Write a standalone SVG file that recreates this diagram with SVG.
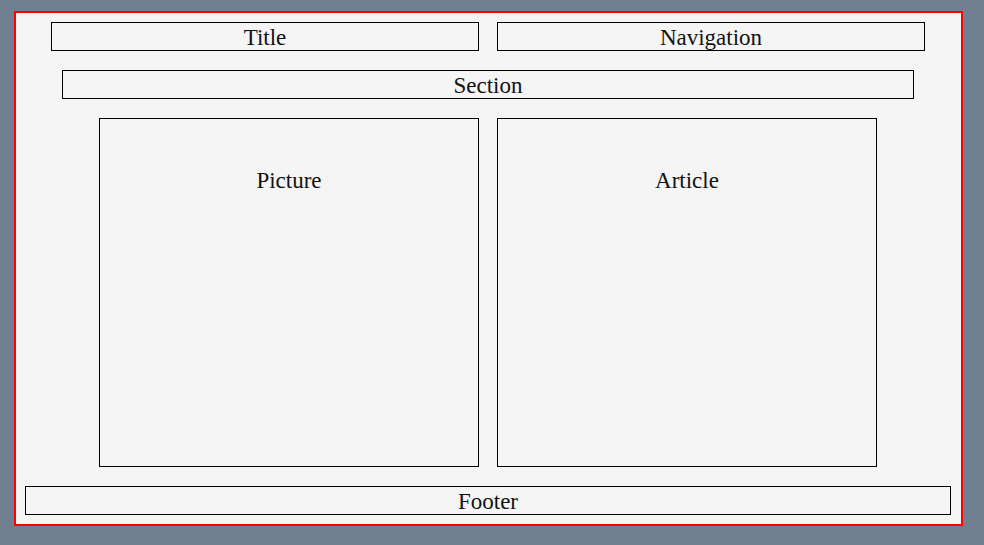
<svg xmlns="http://www.w3.org/2000/svg" width="984" height="545" viewBox="0 0 984 545">
<style>
.box{fill:#f5f5f5;stroke:#000;stroke-width:1}
.lbl{font-family:"Liberation Serif",serif;font-size:23px;fill:#111;text-anchor:middle}
</style>
<rect x="0" y="0" width="984" height="545" fill="#708090"/>
<rect x="15" y="12" width="947" height="513" fill="#f5f5f5" stroke="#ff0000" stroke-width="2"/>
<g id="title"><rect class="box" x="51.5" y="22.5" width="427" height="28"/><text class="lbl" x="265" y="44.5">Title</text></g>
<g id="navigation"><rect class="box" x="497.5" y="22.5" width="427" height="28"/><text class="lbl" x="711" y="44.5">Navigation</text></g>
<g id="section"><rect class="box" x="62.5" y="70.5" width="851" height="28"/><text class="lbl" x="488" y="92.5">Section</text></g>
<g id="picture"><rect class="box" x="99.5" y="118.5" width="379" height="348"/><text class="lbl" x="289" y="188">Picture</text></g>
<g id="article"><rect class="box" x="497.5" y="118.5" width="379" height="348"/><text class="lbl" x="687" y="188">Article</text></g>
<g id="footer"><rect class="box" x="25.5" y="486.5" width="925" height="28"/><text class="lbl" x="488" y="508.5">Footer</text></g>
<g id="connectors"></g>
</svg>
